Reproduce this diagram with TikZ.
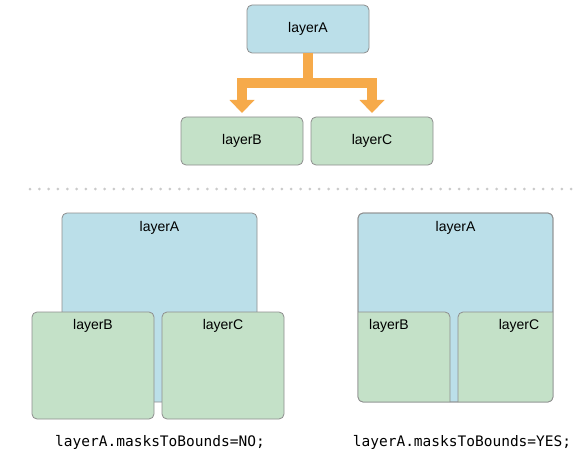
\documentclass[tikz,border=0pt]{standalone}
\usepackage{fontspec}
\setmainfont{Liberation Sans}
\newfontfamily\codefont{DejaVu Sans Mono}
\usetikzlibrary{arrows.meta}
\definecolor{boxblue}{HTML}{BBDFE9}
\definecolor{boxgreen}{HTML}{C4E1C8}
\definecolor{boxline}{HTML}{8E8E8E}
\definecolor{arroworange}{HTML}{F6AA4A}
\definecolor{dotgray}{HTML}{CACACA}
\tikzset{
  box/.style={draw=boxline, line width=0.8pt, rounded corners=5pt, inner sep=0pt, outer sep=0pt,
    font=\fontsize{14}{16}\selectfont},
  smallbox/.style={box, minimum width=122pt, minimum height=48pt},
  bluebox/.style={fill=boxblue},
  greenbox/.style={fill=boxgreen},
  lbl/.style={inner sep=0pt, font=\fontsize{14}{16}\selectfont},
  code/.style={inner sep=0pt, font=\codefont\fontsize{14.5}{17}\selectfont},
  flow/.style={draw=arroworange, line width=10pt},
  flowtip/.style={flow, -{Triangle[width=25pt,length=13pt,line width=0pt]}},
}
\begin{document}
\begin{tikzpicture}[x=1pt,y=-1pt]
\useasboundingbox (0,0) rectangle (579,460);
% ---- top tree ----
\node[smallbox, bluebox] (tA) at (308,29) {layerA};
\node[smallbox, greenbox] (tB) at (242,141) {layerB};
\node[smallbox, greenbox] (tC) at (372,141) {layerC};
\coordinate (fork) at (308,83);
\draw[flow] (tA.south) -- (fork);
\draw[flowtip] (fork) -| ([yshift=4pt]tB.north);
\draw[flowtip] (fork) -| ([yshift=4pt]tC.north);
% ---- separator ----
\draw[dotgray, line width=3pt, line cap=round, dash pattern=on 0pt off 9.33pt] (30,189) -- (575,189);
% ---- left: masksToBounds = NO ----
\node[box, bluebox, minimum width=195pt, minimum height=189pt] (lA) at (159.5,307.5) {};
\node[box, greenbox, minimum width=122pt, minimum height=107pt] (lB) at (93,365.5) {};
\node[box, greenbox, minimum width=122pt, minimum height=107pt] (lC) at (223,365.5) {};
\node[lbl] (lAt) at ([yshift=-15pt]lA.north) {layerA};
\node[lbl] (lBt) at ([yshift=-14pt]lB.north) {layerB};
\node[lbl] (lCt) at ([yshift=-14pt]lC.north) {layerC};
\node[code] (lcap) at (160,442) {layerA.masksToBounds=NO;};
% ---- right: masksToBounds = YES ----
\node[box, bluebox, minimum width=195pt, minimum height=189pt] (rA) at (455.5,307.5) {};
\begin{scope}
  \clip[rounded corners=5pt] (rA.north west) rectangle (rA.south east);
  \node[box, greenbox, minimum width=122pt, minimum height=107pt] (rB) at (389,365.5) {};
  \node[box, greenbox, minimum width=122pt, minimum height=107pt] (rC) at (519,365.5) {};
\end{scope}
\draw[draw=boxline, line width=0.8pt, rounded corners=5pt] (rA.north west) rectangle (rA.south east);
\node[lbl] (rAt) at ([yshift=-15pt]rA.north) {layerA};
\node[lbl] (rBt) at ([yshift=-14pt]rB.north) {layerB};
\node[lbl] (rCt) at ([yshift=-14pt]rC.north) {layerC};
\node[code] (rcap) at (462,442) {layerA.masksToBounds=YES;};
\end{tikzpicture}
\end{document}
